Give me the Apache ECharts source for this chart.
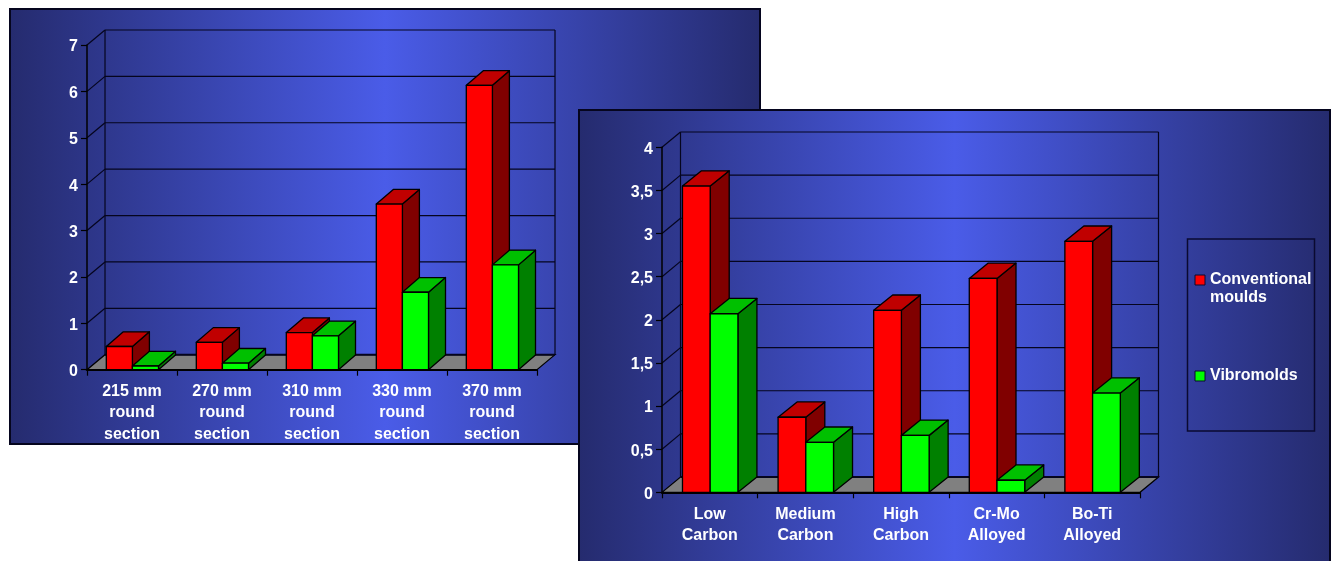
<!DOCTYPE html>
<html>
<head>
<meta charset="utf-8">
<style>html,body{margin:0;padding:0;background:#fff}#c{width:1337px;height:561px}</style>
<script src="https://cdn.jsdelivr.net/npm/echarts@6/dist/echarts.min.js"></script>
</head>
<body>
<div id="c"></div>
<script>
const categoriesA = ['215 mm\nround\nsection','270 mm\nround\nsection','310 mm\nround\nsection','330 mm\nround\nsection','370 mm\nround\nsection'];
const conventionalA = [0.5,0.59,0.8,3.57,6.13];
const vibromoldsA = [0.08,0.14,0.73,1.67,2.26];
const ticksA = [0,1,2,3,4,5,6,7];

const categoriesB = ['Low\nCarbon','Medium\nCarbon','High\nCarbon','Cr-Mo\nAlloyed','Bo-Ti\nAlloyed'];
const conventionalB = [3.55,0.87,2.11,2.48,2.91];
const vibromoldsB = [2.07,0.58,0.66,0.14,1.15];
const ticksB = [0,0.5,1,1.5,2,2.5,3,3.5,4];

const seriesNames = ['Conventional moulds','Vibromolds'];
const legendLabels = [' \nConventional\nmoulds','Vibromolds'];

const RED = {front:'#ff0000',top:'#c00000',side:'#800000'};
const GREEN = {front:'#00ff00',top:'#00c000',side:'#008000'};
const FONT = '"Liberation Sans", Arial, sans-serif';

function panelFill(){
  return {type:'linear',x:0,y:0,x2:1,y2:0,colorStops:[
    {offset:0,color:'#252b6e'},{offset:0.5,color:'#4a5ce8'},{offset:1,color:'#252b6e'}]};
}
function wallSeries(ticks, xIdx, z, wallDepth){
  const top = ticks[ticks.length-1];
  return {
    type:'custom', xAxisIndex:xIdx, yAxisIndex:xIdx, z, silent:true,
    data:ticks.map(t=>[0,t]), encode:{x:0,y:1},
    renderItem(params, api){
      const cs = params.coordSys, v = api.value(1);
      const y = api.coord([0,v])[1];
      const [dx,dy] = wallDepth;
      const x0 = cs.x, x1 = cs.x+cs.width;
      const line = (a,b,c,d,w)=>({type:'line',shape:{x1:a,y1:b,x2:c,y2:d},style:{stroke:'#05051e',lineWidth:w||1.2}});
      const kids = [];
      if(v===0){
        kids.push({type:'polygon',shape:{points:[[x0,y],[x1,y],[x1+dx,y-dy],[x0+dx,y-dy]]},
          style:{fill:'#808080',stroke:'#000',lineWidth:1.2}});
        kids.push(line(x0+dx,y-dy,x1+dx,y-dy,2));
      }else{
        kids.push(line(x0,y,x0+dx,y-dy));
        kids.push(line(x0+dx,y-dy,x1+dx,y-dy));
      }
      if(v===top){
        const yb = api.coord([0,0])[1]-dy;
        kids.push(line(x0+dx,y-dy,x0+dx,yb));
        kids.push(line(x1+dx,y-dy,x1+dx,yb));
      }
      return {type:'group',children:kids};
    }
  };
}
function barSeries(name, values, xIdx, slot, colors, z, depth){
  return {
    type:'custom', name, xAxisIndex:xIdx, yAxisIndex:xIdx, z, silent:true,
    data:values.map((v,i)=>[i,v]), encode:{x:0,y:1},
    itemStyle:{color:colors.front},
    renderItem(params, api){
      const p = api.coord([api.value(0),api.value(1)]);
      const base = api.coord([api.value(0),0])[1];
      const w = api.size([1,0])[0]*0.29;
      const l = p[0]+slot*w+0.4, r = l+w, t = p[1];
      const [dx,dy] = depth;
      const st = f=>({fill:f,stroke:'#000',lineWidth:1.3,lineJoin:'round'});
      return {type:'group',children:[
        {type:'polygon',shape:{points:[[r,t],[r+dx,t-dy],[r+dx,base-dy],[r,base]]},style:st(colors.side)},
        {type:'polygon',shape:{points:[[l,t],[l+dx,t-dy],[r+dx,t-dy],[r,t]]},style:st(colors.top)},
        {type:'rect',shape:{x:l,y:t,width:w,height:base-t},style:st(colors.front)}
      ]};
    }
  };
}
function xAxisOf(cats, idx, z, margin, lh){
  return {type:'category',gridIndex:idx,data:cats,z,
    axisLine:{show:true,lineStyle:{color:'#000',width:2}},
    axisTick:{show:true,length:6,inside:false,alignWithLabel:false,lineStyle:{color:'#000',width:1.2}},
    axisLabel:{interval:0,color:'#fff',fontFamily:FONT,fontWeight:'bold',fontSize:16,lineHeight:lh,margin,hideOverlap:false},
    splitLine:{show:false}};
}
function yAxisOf(ticks, idx, z){
  return {type:'value',gridIndex:idx,min:ticks[0],max:ticks[ticks.length-1],interval:ticks[1]-ticks[0],z,
    axisLine:{show:true,lineStyle:{color:'#000',width:1.5}},
    axisTick:{show:true,length:6,lineStyle:{color:'#000',width:1.2}},
    axisLabel:{color:'#fff',fontFamily:FONT,fontWeight:'bold',fontSize:16,margin:9,verticalAlign:'top',lineHeight:4,
      formatter:v=>String(v).replace('.',',')},
    splitLine:{show:false}};
}
const chart = echarts.init(document.getElementById('c'),null,{renderer:'canvas'});
chart.setOption({
  animation:false,
  backgroundColor:'#fff',
  graphic:{elements:[
    {type:'rect',z:1,silent:true,shape:{x:10,y:9,width:750,height:435},
      style:{fill:panelFill(),stroke:'#05051e',lineWidth:2}},
    {type:'rect',z:6,silent:true,shape:{x:579,y:110,width:751,height:470},
      style:{fill:panelFill(),stroke:'#05051e',lineWidth:2}},
    {type:'rect',z:7,silent:true,shape:{x:1187.5,y:239,width:127,height:192},
      style:{fill:'transparent',stroke:'#0a0a30',lineWidth:1.5}}
  ]},
  grid:[
    {left:87,top:45,width:450,height:324.7},
    {left:662,top:147.3,width:478,height:345}
  ],
  xAxis:[xAxisOf(categoriesA,0,3,11,21.5),xAxisOf(categoriesB,1,8,11.5,21)],
  yAxis:[yAxisOf(ticksA,0,3),yAxisOf(ticksB,1,8)],
  legend:{
    z:10,left:1194.5,top:253,orient:'vertical',itemWidth:10,itemHeight:10,itemGap:60,selectedMode:false,padding:0,
    textStyle:{color:'#fff',fontFamily:FONT,fontWeight:'bold',fontSize:16,lineHeight:18},
    formatter:n=>legendLabels[seriesNames.indexOf(n)],
    data:[
      {name:seriesNames[0],icon:'rect',itemStyle:{color:RED.front,borderColor:'#0a0a30',borderWidth:1}},
      {name:seriesNames[1],icon:'rect',itemStyle:{color:GREEN.front,borderColor:'#0a0a30',borderWidth:1}}
    ]
  },
  series:[
    wallSeries(ticksA,0,2,[18,15]),
    barSeries(seriesNames[0],conventionalA,0,-1,RED,4,[17,14.7]),
    barSeries(seriesNames[1],vibromoldsA,0,0,GREEN,5,[17,14.7]),
    wallSeries(ticksB,1,7,[18.5,15.3]),
    barSeries(seriesNames[0],conventionalB,1,-1,RED,9,[19,15.3]),
    barSeries(seriesNames[1],vibromoldsB,1,0,GREEN,9.5,[19,15.3])
  ]
});
</script>
</body>
</html>
